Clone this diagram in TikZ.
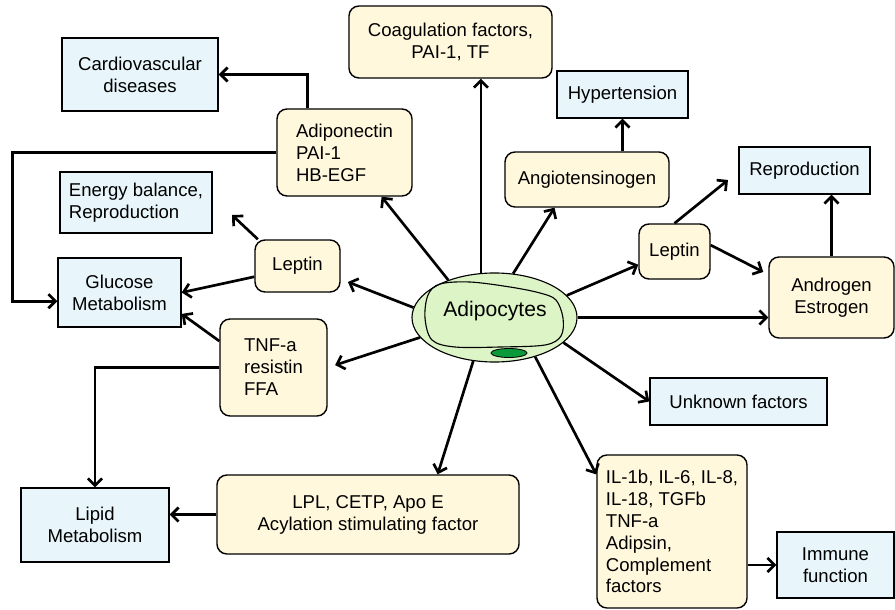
\documentclass[tikz,border=0pt]{standalone}
\usepackage{fontspec}
\setmainfont{Liberation Sans}
\usetikzlibrary{arrows.meta,calc,shapes.geometric}
\definecolor{boxblue}{HTML}{E8F6FB}
\definecolor{boxyellow}{HTML}{FFF8DC}
\definecolor{cellgreen}{HTML}{DDF5C6}
\definecolor{nucgreen}{HTML}{0A9A3A}
\tikzset{
	bluebox/.style={draw, fill=boxblue, line width=1pt, inner sep=0pt, align=center},
	yellowbox/.style={draw, fill=boxyellow, line width=1pt, inner sep=0pt, align=center, rounded corners=0.25cm},
	dims/.style 2 args={minimum width=#1, minimum height=#2},
	arr/.style={line width=1.9pt, -{Straight Barb[length=5pt,width=10pt]}},
}
\begin{document}
\begin{tikzpicture}[x=0.025cm, y=-0.025cm, font=\fontsize{13.2}{15.6}\selectfont]
					\useasboundingbox (0,0) rectangle (895,610);
					\node[bluebox, dims={3.9cm}{1.825cm}] (card) at (140,74.5) {Cardiovascular\\diseases}; %cardiovascular box
					\node[bluebox, dims={3.8cm}{1.525cm}, align=left] (energy) at (136,202.5) {Energy balance,\\Reproduction}; %energy box
					\node[bluebox, dims={3.075cm}{1.725cm}] (glucose) at (119.5,292.5) {Glucose\\Metabolism}; %glucose box
					\node[bluebox, dims={3.275cm}{1.175cm}] (hyper) at (622.5,94.5) {Hypertension}; %hypertension box
					\node[bluebox, dims={3.275cm}{1.175cm}] (repro) at (804.5,170.5) {Reproduction}; %reproduction box
					\node[bluebox, dims={4.425cm}{1.175cm}] (unknown) at (738.5,401.5) {Unknown factors}; %unknown box
					\node[bluebox, dims={3.7cm}{1.85cm}] (lipid) at (95,525) {Lipid\\Metabolism}; %lipid box
					\node[bluebox, dims={2.925cm}{1.65cm}] (immune) at (835.5,565) {Immune\\function}; %immune box
					\node[yellowbox, dims={5.075cm}{1.8cm}] (coag) at (450.5,42) {Coagulation factors,\\PAI-1, TF}; %coagulation
					\node[yellowbox, dims={3.375cm}{2.175cm}, align=left] (adipo) at (344.5,152.5) {Adiponectin\\PAI-1\\HB-EGF}; %adiponectin
					\node[yellowbox, dims={2.125cm}{1.3cm}] (leptinL) at (297.5,266) {Leptin}; %left leptin
					\node[yellowbox, dims={2.675cm}{2.425cm}, align=left] (tnf) at (273.5,367.5) {TNF-a\\resistin\\FFA}; %tnf box
					\node[yellowbox, dims={7.55cm}{1.975cm}] (lpl) at (368,514.5) {LPL, CETP, Apo E\\Acylation stimulating factor}; %lpl box
					\node[yellowbox, dims={4.1cm}{1.375cm}] (angio) at (587,179.5) {Angiotensinogen}; %angiotensinogen
					\node[yellowbox, dims={1.775cm}{1.375cm}] (leptinR) at (674.5,251.5) {Leptin}; %right leptin
					\node[yellowbox, dims={3.125cm}{2.025cm}] (andro) at (831.5,297.5) {Androgen\\Estrogen}; %androgen
					\node[yellowbox, dims={3.75cm}{3.825cm}, align=left] (il) at (672,531.5) {IL-1b, IL-6, IL-8,\\IL-18, TGFb\\TNF-a\\Adipsin,\\Complement\\factors}; %interleukins
					\node[ellipse, draw, fill=cellgreen, line width=0.8pt, minimum width=4.125cm, minimum height=2.225cm] (cell) at (494.5,317.5) {}; %outer cell
					\draw[line width=0.8pt] plot[smooth cycle, tension=0.55] coordinates {(440,284) (470,282) (510,287) (540,293) (556,300) (563,318) (561,336) (545,345) (500,347) (455,347) (432,340) (425,318) (428,295)}; %inner blob
					\node[ellipse, draw, fill=nucgreen, line width=0.6pt, minimum width=0.9cm, minimum height=0.225cm, inner sep=0pt] (nucleus) at (509,353) {}; %nucleus
					\node[font=\fontsize{15}{18}\selectfont] (celltext) at (495,311) {Adipocytes}; %cell label
					\coordinate (reproin) at (728,180); %free end towards reproduction
					\coordinate (energyin) at (232,215); %free end towards energy balance
					\draw[arr] (cell.107.6) -- (cell.107.6 |- coag.south); %to coagulation
					\draw[arr] (cell.141.7) -- (adipo.-50.5); %to adiponectin
					\draw[arr] (cell.67.4) -- (angio.-139); %to angiotensinogen
					\draw[arr] (angio.north -| hyper) -- (hyper.south); %to hypertension
					\draw[arr] (cell.17.7) -- (leptinR.200.3); %to right leptin
					\draw[arr] (leptinR.north) -- (reproin); %leptin to reproduction
					\draw[arr, shorten >=4pt] (leptinR.10) -- (andro.160); %leptin to androgen
					\draw[arr] (andro.north) -- (andro.north |- repro.south); %androgen to reproduction
					\draw[arr] (cell.east) -- (cell.east -| andro.west); %to androgen
					\draw[arr] (cell.-20.4) -- (unknown.west); %to unknown factors
					\draw[arr] (cell.-44.3) -- (il.143.7); %to interleukins
					\draw[arr] (il.east |- immune.west) -- (immune.west); %to immune function
					\draw[arr] (cell.-116.8) -- (lpl.30.7); %to lpl
					\draw[arr] (lpl.west) -- (lpl.west -| lipid.east); %lpl to lipid
					\draw[arr, shorten >=5.5pt] (cell.195.4) -- (tnf.east); %to tnf
					\draw[arr] (tnf.154.5) -- (glucose.-19.8); %tnf to glucose
					\draw[arr] (tnf.west) -| (lipid.north); %tnf to lipid
					\draw[arr, shorten >=5.5pt] (cell.173.6) -- (leptinL.-17.6); %to left leptin
					\draw[arr] (leptinL.194.5) -- (glucose.east); %leptin to glucose
					\draw[arr] (leptinL.146.6) -- (energyin); %leptin to energy balance
					\draw[arr] ($(adipo.north west)!0.23!(adipo.north east)$) |- (card.east); %adiponectin to cardiovascular
					\draw[arr] (adipo.west) -- ++(-264,0) |- (glucose.188.8); %adiponectin to glucose
				\end{tikzpicture}
\end{document}
